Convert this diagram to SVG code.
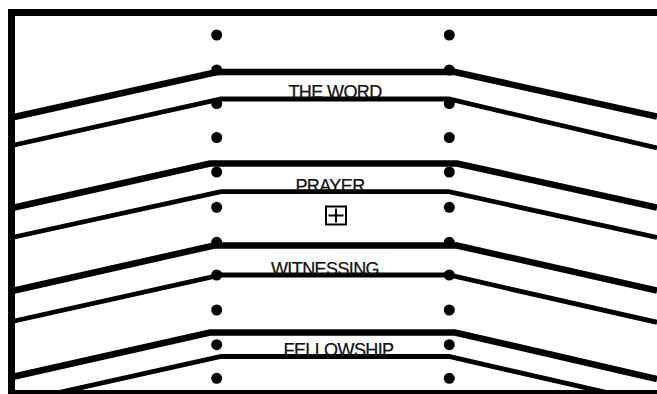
<svg xmlns="http://www.w3.org/2000/svg" width="657" height="394" viewBox="0 0 657 394">
<style>
.frame{fill:none;stroke:#000;stroke-width:7}
.thick{fill:none;stroke:#000;stroke-width:6.5;stroke-linejoin:miter}
.thin{fill:none;stroke:#000;stroke-width:4.8;stroke-linejoin:miter}
.dot{fill:#000}
.lbl{font-family:"Liberation Sans",Arial,sans-serif;font-size:18px;letter-spacing:-0.6px;fill:#111;stroke:#111;stroke-width:0.25;text-anchor:middle}
.box{fill:#fff;stroke:#000;stroke-width:2}
</style>
<rect id="background" x="0" y="0" width="657" height="394" fill="#fff"/>
<rect id="frame" class="frame" x="11.5" y="12.5" width="700" height="381"/>
<g id="connectors">
  <polyline class="thick" points="12,117.5 217,72 455,72 657,116.7"/>
  <polyline class="thin" points="12,145.5 221,99 449,99 657,148"/>
  <polyline class="thick" points="12,208 210,163.5 457,163.5 657,207.5"/>
  <polyline class="thin" points="12,237.5 221,191.7 449,191.7 657,237.5"/>
  <polyline class="thick" points="12,291 214,245.5 457,245.5 657,290.7"/>
  <polyline class="thin" points="12,321.5 221,275 449,275 657,322.3"/>
  <polyline class="thick" points="12,377 210,332.5 455,332.5 657,379"/>
  <polyline class="thin" points="12,403 221,356.5 449,356.5 657,404"/>
</g>
<g id="dots-left">
  <circle class="dot" cx="216.7" cy="35" r="5.5"/>
  <circle class="dot" cx="216.7" cy="70" r="5.5"/>
  <circle class="dot" cx="216.7" cy="103.5" r="5.5"/>
  <circle class="dot" cx="216.7" cy="137.5" r="5.5"/>
  <circle class="dot" cx="216.7" cy="172" r="5.5"/>
  <circle class="dot" cx="216.7" cy="207.3" r="5.5"/>
  <circle class="dot" cx="216.7" cy="242.3" r="5.5"/>
  <circle class="dot" cx="216.7" cy="275" r="5.5"/>
  <circle class="dot" cx="216.7" cy="310" r="5.5"/>
  <circle class="dot" cx="216.7" cy="344.7" r="5.5"/>
  <circle class="dot" cx="216.7" cy="378.3" r="5.5"/>
</g>
<g id="dots-right">
  <circle class="dot" cx="449.3" cy="35" r="5.5"/>
  <circle class="dot" cx="449.3" cy="70" r="5.5"/>
  <circle class="dot" cx="449.3" cy="103.5" r="5.5"/>
  <circle class="dot" cx="449.3" cy="137.5" r="5.5"/>
  <circle class="dot" cx="449.3" cy="172" r="5.5"/>
  <circle class="dot" cx="449.3" cy="207.3" r="5.5"/>
  <circle class="dot" cx="449.3" cy="242.3" r="5.5"/>
  <circle class="dot" cx="449.3" cy="275" r="5.5"/>
  <circle class="dot" cx="449.3" cy="310" r="5.5"/>
  <circle class="dot" cx="449.3" cy="344.7" r="5.5"/>
  <circle class="dot" cx="449.3" cy="378.3" r="5.5"/>
</g>
<g id="the-word"><text class="lbl" x="335" y="97.5">THE WORD</text></g>
<g id="prayer"><text class="lbl" x="330" y="191.5">PRAYER</text></g>
<g id="expand-box">
  <rect class="box" x="326" y="206.5" width="20" height="18"/>
  <line x1="328.5" y1="215.5" x2="343.5" y2="215.5" stroke="#000" stroke-width="2"/>
  <line x1="336" y1="208.5" x2="336" y2="222.5" stroke="#000" stroke-width="2"/>
</g>
<g id="witnessing"><text class="lbl" x="325" y="274.5">WITNESSING</text></g>
<g id="fellowship"><text class="lbl" x="338.5" y="355.5">FELLOWSHIP</text></g>
</svg>
